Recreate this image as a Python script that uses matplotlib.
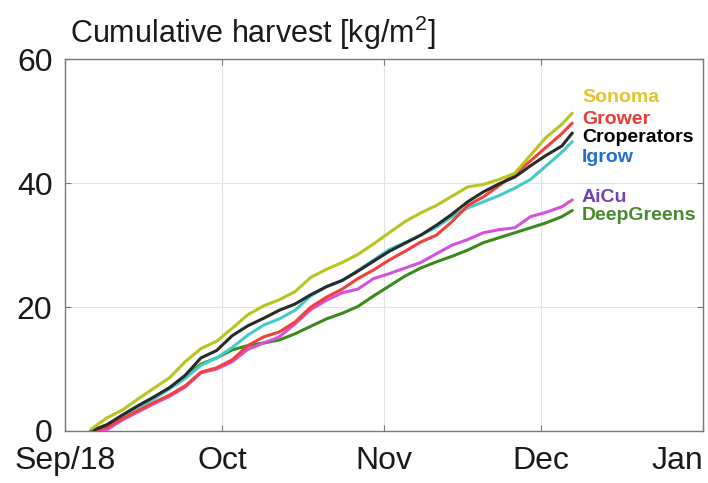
import matplotlib
matplotlib.use("Agg")
import matplotlib.pyplot as plt
import matplotlib.transforms as mtransforms
import pandas as pd

plt.rcParams['font.family'] = ['Liberation Sans', 'DejaVu Sans']
plt.rcParams['mathtext.fontset'] = 'custom'
plt.rcParams['mathtext.rm'] = 'Liberation Sans'
plt.rcParams['mathtext.it'] = 'Liberation Sans'

# ---- data ----
start = pd.Timestamp('2018-09-01')
day_offsets = [5, 8, 11, 14, 17, 20, 23, 26, 29, 32, 35, 38, 41, 44, 47, 50, 53, 56,
               59, 62, 65, 68, 71, 74, 77, 80, 83, 86, 89, 92, 95, 97]
dates = [start + pd.Timedelta(days=d) for d in day_offsets]

sonoma = [0.3, 2.1, 3.4, 5.2, 6.9, 8.6, 11.2, 13.3, 14.5, 16.6, 18.8, 20.2, 21.2, 22.5, 24.8, 26.1,
          27.2, 28.5, 30.2, 32.0, 33.8, 35.2, 36.4, 37.9, 39.4, 39.8, 40.6, 41.6, 44.5, 47.4, 49.5, 51.3]
grower = [0, 0.6, 2.0, 3.3, 4.6, 5.8, 7.3, 9.5, 10.2, 11.5, 13.8, 15.2, 16.0, 17.6, 20.0, 21.6,
          22.9, 24.6, 26.0, 27.6, 29.0, 30.5, 31.6, 33.8, 36.4, 37.8, 39.6, 41.5, 43.6, 45.8, 48.0, 49.7]
croperators = [0, 1.0, 2.6, 4.1, 5.5, 7.0, 9.0, 11.8, 13.0, 15.4, 17.0, 18.2, 19.5, 20.5, 22.0, 23.3,
               24.3, 25.8, 27.4, 29.0, 30.3, 31.6, 33.2, 35.0, 37.0, 38.6, 39.9, 41.0, 42.8, 44.5, 46.0, 48.1]
igrow = [0, 0.8, 2.4, 3.8, 5.2, 6.8, 8.5, 10.6, 11.8, 13.5, 15.5, 17.1, 18.1, 19.5, 21.8, 23.3,
         24.3, 25.9, 27.6, 29.3, 30.4, 31.6, 32.9, 34.6, 36.0, 37.0, 38.0, 39.2, 40.6, 42.8, 45.0, 46.7]
aicu = [0, 0.2, 1.8, 3.1, 4.4, 5.6, 7.1, 9.4, 10.0, 11.2, 13.2, 14.2, 15.2, 17.3, 19.6, 21.1,
        22.3, 22.9, 24.6, 25.4, 26.3, 27.2, 28.6, 30.0, 30.9, 32.0, 32.5, 32.8, 34.6, 35.3, 36.2, 37.3]
deepgreens = [0, 1.0, 2.4, 4.0, 5.4, 7.0, 8.8, 10.8, 11.8, 13.1, 13.8, 14.2, 14.7, 15.7, 16.9, 18.1,
              19.0, 20.1, 21.8, 23.4, 25.0, 26.3, 27.3, 28.2, 29.2, 30.4, 31.2, 32.0, 32.8, 33.6, 34.6, 35.6]

names = ['Sonoma', 'Grower', 'Croperators', 'Igrow', 'AiCu', 'DeepGreens']
line_colors = ['#B9C41E', '#F0413B', '#2A2A2A', '#45CACA', '#D452DE', '#3C8A1C']
text_colors = ['#E6C22C', '#EE3A35', '#000000', '#1F6FD2', '#7440B4', '#4A8A2C']
series = [sonoma, grower, croperators, igrow, aicu, deepgreens]

tick_dates = ['2018-09-01', '2018-10-01', '2018-11-01', '2018-12-01', '2019-01-01']
tick_labels = ['Sep/18', 'Oct', 'Nov', 'Dec', 'Jan']
y_ticks = [0, 20, 40, 60]

# ---- figure ----
W, H = 708, 483
fig = plt.figure(figsize=(W / 100, H / 100), dpi=100)
ax = fig.add_axes([65 / W, 1 - 431 / H, (703 - 65) / W, (431 - 59.3) / H])

order = [5, 4, 3, 1, 2, 0]
for i in order:
    ax.plot(dates, series[i], color=line_colors[i], lw=2.2, solid_joinstyle='round',
            solid_capstyle='round', zorder=3)

ax.set_xlim(pd.Timestamp(tick_dates[0]), pd.Timestamp(tick_dates[-1]))
ax.set_ylim(0, 60)
ax.set_xticks([pd.Timestamp(t) for t in tick_dates])
ax.set_xticklabels(tick_labels)
ax.set_yticks(y_ticks)
ax.grid(True, color='#E3E3E3', lw=0.8, zorder=0)
ax.set_axisbelow(True)
for s in ax.spines.values():
    s.set_color('#7A7A7A')
    s.set_linewidth(1.0)
ax.tick_params(axis='both', direction='in', length=4, width=0.8, color='#7A7A7A',
               labelsize=23, labelcolor='#1A1A1A', top=True, right=True)
ax.tick_params(axis='x', pad=11)
ax.tick_params(axis='y', pad=9)

# shift Jan label left so that it stays inside the figure
labels = ax.get_xticklabels()
off = mtransforms.ScaledTranslation(-26 / 100, 0, fig.dpi_scale_trans)
labels[-1].set_transform(labels[-1].get_transform() + off)

# title
fig.text(70 / W, 1 - 43 / H, r'Cumulative harvest [kg/m$^{\mathregular{2}}$]',
         fontsize=22, color='#1A1A1A', ha='left', va='baseline')

# labels next to line ends
label_y = [97, 119, 138, 158, 197, 216]
for name, tc, yy in zip(names, text_colors, label_y):
    fig.text(582 / W, 1 - yy / H, name, color=tc, fontsize=14, fontweight='bold',
             ha='left', va='center')

fig.savefig('out.png', dpi=100)
